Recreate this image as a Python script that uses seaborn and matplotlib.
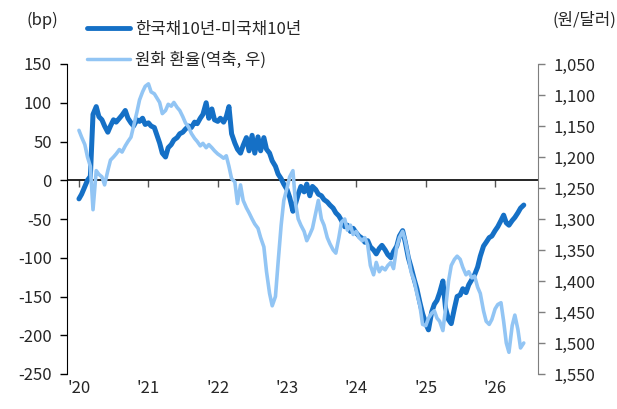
import numpy as np
import pandas as pd
import matplotlib
matplotlib.use('Agg')
import matplotlib.pyplot as plt
import matplotlib.dates as mdates
from matplotlib.lines import Line2D
import seaborn as sns

# Data (semi-monthly readings, Jan 2020 - Jun 2026)
dates = pd.date_range('2020-01-01', '2026-06-01', freq='SMS')

spread_bp = [
    -24, -18, -8, 0, 5, 85, 95, 82, 78, 70, 62, 70, 78, 75, 80, 84, 90, 80, 74, 70, 78, 76, 80, 72,
    74, 70, 68, 58, 48, 35, 30, 42, 46, 52, 55, 60, 62, 66, 70, 68, 75, 73, 80, 85, 100, 80, 92, 78,
    76, 80, 75, 82, 95, 60, 48, 40, 35, 45, 55, 38, 58, 35, 56, 38, 55, 40, 35, 25, 18, 8, 2, -5,
    -12, -22, -40, -30, -18, -8, -15, -5, -20, -8, -12, -18, -20, -25, -28, -32, -36, -42, -46, -52, -60, -58, -66, -62,
    -68, -72, -75, -80, -78, -86, -90, -95, -88, -84, -90, -96, -100, -92, -85, -72, -65, -80, -100, -112, -128, -140, -158, -172,
    -185, -193, -170, -160, -155, -145, -130, -165, -180, -185, -165, -150, -148, -140, -145, -135, -128, -122, -112, -98, -85, -80, -74, -72,
    -65, -60, -52, -45, -55, -58, -52, -48, -42, -36, -32,
]

krw_usd = [
    1157, 1168, 1180, 1200, 1215, 1285, 1222, 1228, 1232, 1245, 1222, 1205, 1200, 1195, 1188, 1192, 1182, 1175, 1168, 1150, 1128, 1108, 1095, 1086,
    1082, 1095, 1098, 1105, 1112, 1130, 1125, 1115, 1118, 1112, 1120, 1125, 1135, 1145, 1152, 1162, 1170, 1175, 1182, 1178, 1185, 1180, 1185, 1190,
    1195, 1198, 1202, 1198, 1215, 1235, 1240, 1275, 1245, 1270, 1282, 1290, 1300, 1308, 1315, 1330, 1345, 1385, 1420, 1440, 1425, 1370, 1310, 1270,
    1250, 1232, 1222, 1275, 1300, 1310, 1320, 1335, 1325, 1315, 1290, 1270, 1300, 1310, 1330, 1340, 1350, 1355, 1330, 1305, 1300, 1318, 1310, 1325,
    1320, 1330, 1335, 1330, 1342, 1375, 1390, 1370, 1385, 1378, 1382, 1375, 1370, 1380, 1345, 1330, 1320, 1335, 1360, 1385, 1400, 1420, 1440, 1470,
    1472, 1460, 1452, 1448, 1460, 1465, 1480, 1445, 1400, 1375, 1365, 1360, 1365, 1378, 1390, 1385, 1395, 1392, 1410, 1420, 1448, 1465, 1470, 1462,
    1445, 1438, 1435, 1465, 1500, 1515, 1472, 1455, 1478, 1508, 1500,
]

years = ['2020', '2021', '2022', '2023', '2024', '2025', '2026']
year_labels = ["'20", "'21", "'22", "'23", "'24", "'25", "'26"]
bp_ticks = [150, 100, 50, 0, -50, -100, -150, -200, -250]
fx_ticks = [1050, 1100, 1150, 1200, 1250, 1300, 1350, 1400, 1450, 1500, 1550]

dark = '#1570C6'
light = '#92C5F4'

sns.set_style('ticks')
plt.rcParams['font.family'] = ['Noto Sans CJK KR', 'DejaVu Sans']
plt.rcParams['axes.unicode_minus'] = False

fig = plt.figure(figsize=(6.17, 4.09), dpi=100)
ax = fig.add_axes([67 / 617, 1 - 374 / 409, (538 - 67) / 617, (374 - 64) / 409])
ax2 = ax.twinx()

sns.lineplot(x=dates, y=spread_bp, ax=ax, color=dark, lw=3.6)
sns.lineplot(x=dates, y=krw_usd, ax=ax2, color=light, lw=2.6)

fs = 12
ax.set_ylim(-250, 150)
ax.set_yticks(bp_ticks)
ax.set_yticklabels([str(v) for v in bp_ticks], fontsize=fs)
ax2.set_ylim(1550, 1050)
ax2.set_yticks(fx_ticks)
ax2.set_yticklabels([f'{v:,}' for v in fx_ticks], fontsize=fs)

xt = pd.to_datetime(years)
ax.set_xlim(pd.Timestamp('2019-10-30'), pd.Timestamp('2026-08-15'))
ax.set_xticks(xt)
ax.set_xticklabels(year_labels, fontsize=fs)
ax.tick_params(axis='x', length=0, pad=4)
ax.tick_params(axis='y', length=5, width=1, color='black', direction='out', pad=6)
ax2.tick_params(axis='y', length=5, width=1, color='#7f7f7f', direction='out', pad=6)
ax.set_xlabel('')
ax.set_ylabel('')
ax2.set_ylabel('')

for a in (ax, ax2):
    a.spines['top'].set_visible(False)
    a.spines['bottom'].set_visible(False)
ax2.spines['left'].set_visible(False)
ax.spines['right'].set_visible(False)
ax.spines['left'].set_color('black')
ax2.spines['right'].set_color('#7f7f7f')

# zero line with year tick marks
ax.axhline(0, color='black', lw=1.2, zorder=1)
sec = ax.secondary_xaxis(250 / 400)
sec.set_xticks(mdates.date2num(xt))
sec.set_xticklabels([])
sec.tick_params(axis='x', direction='in', length=5, width=1, color='#555555')
sec.spines['top'].set_visible(False)
sec.spines['bottom'].set_visible(False)

fig.text(42 / 617, 1 - 20 / 409, '(bp)', fontsize=fs, ha='center', va='center')
fig.text(584 / 617, 1 - 20 / 409, '(원/달러)', fontsize=fs, ha='center', va='center')

handles = [Line2D([], [], color=dark, lw=3.5), Line2D([], [], color=light, lw=2.5)]
fig.legend(handles, ['한국채10년-미국채10년', '원화 환율(역축, 우)'],
           loc='upper left', bbox_to_anchor=(80 / 617, 1 - 14 / 409), frameon=False,
           fontsize=fs, handlelength=2.6, handletextpad=0.3, labelspacing=0.85, borderaxespad=0)

fig.savefig('out.png', dpi=100)
